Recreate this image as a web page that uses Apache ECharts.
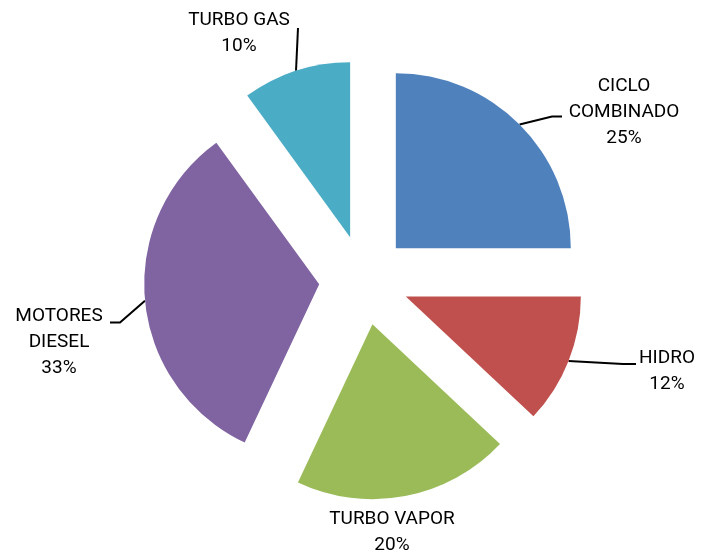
<!DOCTYPE html>
<html>
<head>
<meta charset="utf-8">
<script src="https://cdn.jsdelivr.net/npm/echarts@6/dist/echarts.min.js"></script>
<style>
html,body{margin:0;padding:0;background:#fff;}
#c{width:704px;height:556px;}
</style>
</head>
<body>
<div id="c"></div>
<script>
var categories = ['CICLO\nCOMBINADO', 'HIDRO', 'TURBO VAPOR', 'MOTORES\nDIESEL', 'TURBO GAS'];
var values = [25, 12, 20, 33, 10];
var colors = ['#4F81BD', '#C0504D', '#9BBB59', '#8064A2', '#4BACC6'];

// label layout (label block centres and leader line bends)
var labelPos = [
  {x: 624, y: 112, line: [[552, 116.5], [562, 116.5]]},
  {x: 667, y: 371, line: [[623, 364], [636, 364]]},
  {x: 392, y: 532, line: null},
  {x: 59, y: 342, line: [[120, 322.5], [110, 322.5]]},
  {x: 239, y: 33, line: [[298, 28], [298, 28]]}
];

var CX = 364, CY = 280, R = 175, EXPLODE = 45;
var total = values.reduce(function (a, b) { return a + b; }, 0);

var series = [];
var cum = 0;
values.forEach(function (v, i) {
  var mid = (cum + v / 2) / total * 2 * Math.PI;
  cum += v;
  var center = [CX + EXPLODE * Math.sin(mid), CY - EXPLODE * Math.cos(mid)];
  var data = categories.map(function (c, j) {
    var own = (j === i);
    return {
      name: c,
      value: values[j],
      itemStyle: {color: own ? colors[j] : 'rgba(0,0,0,0)'},
      label: {show: own},
      labelLine: {show: own && labelPos[j].line !== null}
    };
  });
  series.push({
    type: 'pie',
    center: center,
    radius: [0, R],
    startAngle: 90,
    clockwise: true,
    avoidLabelOverlap: false,
    silent: true,
    emphasis: {disabled: true},
    itemStyle: {borderWidth: 0},
    label: {
      position: 'outside',
      formatter: function (p) { return p.name + '\n' + Math.round(p.value / total * 100) + '%'; },
      fontFamily: 'Roboto',
      fontSize: 19,
      lineHeight: 26,
      color: '#000',
      align: 'center'
    },
    labelLine: {
      length: 20,
      length2: 10,
      lineStyle: {color: '#000', width: 2}
    },
    labelLayout: function (params) {
      var lp = labelPos[params.dataIndex];
      var res = {x: lp.x, y: lp.y, align: 'center', verticalAlign: 'middle'};
      if (lp.line && params.labelLinePoints) {
        res.labelLinePoints = [params.labelLinePoints[0], lp.line[0], lp.line[1]];
      }
      return res;
    },
    data: data
  });
});

var chart = echarts.init(document.getElementById('c'), null, {renderer: 'canvas'});
chart.setOption({
  backgroundColor: '#ffffff',
  animation: false,
  series: series
});
</script>
</body>
</html>
